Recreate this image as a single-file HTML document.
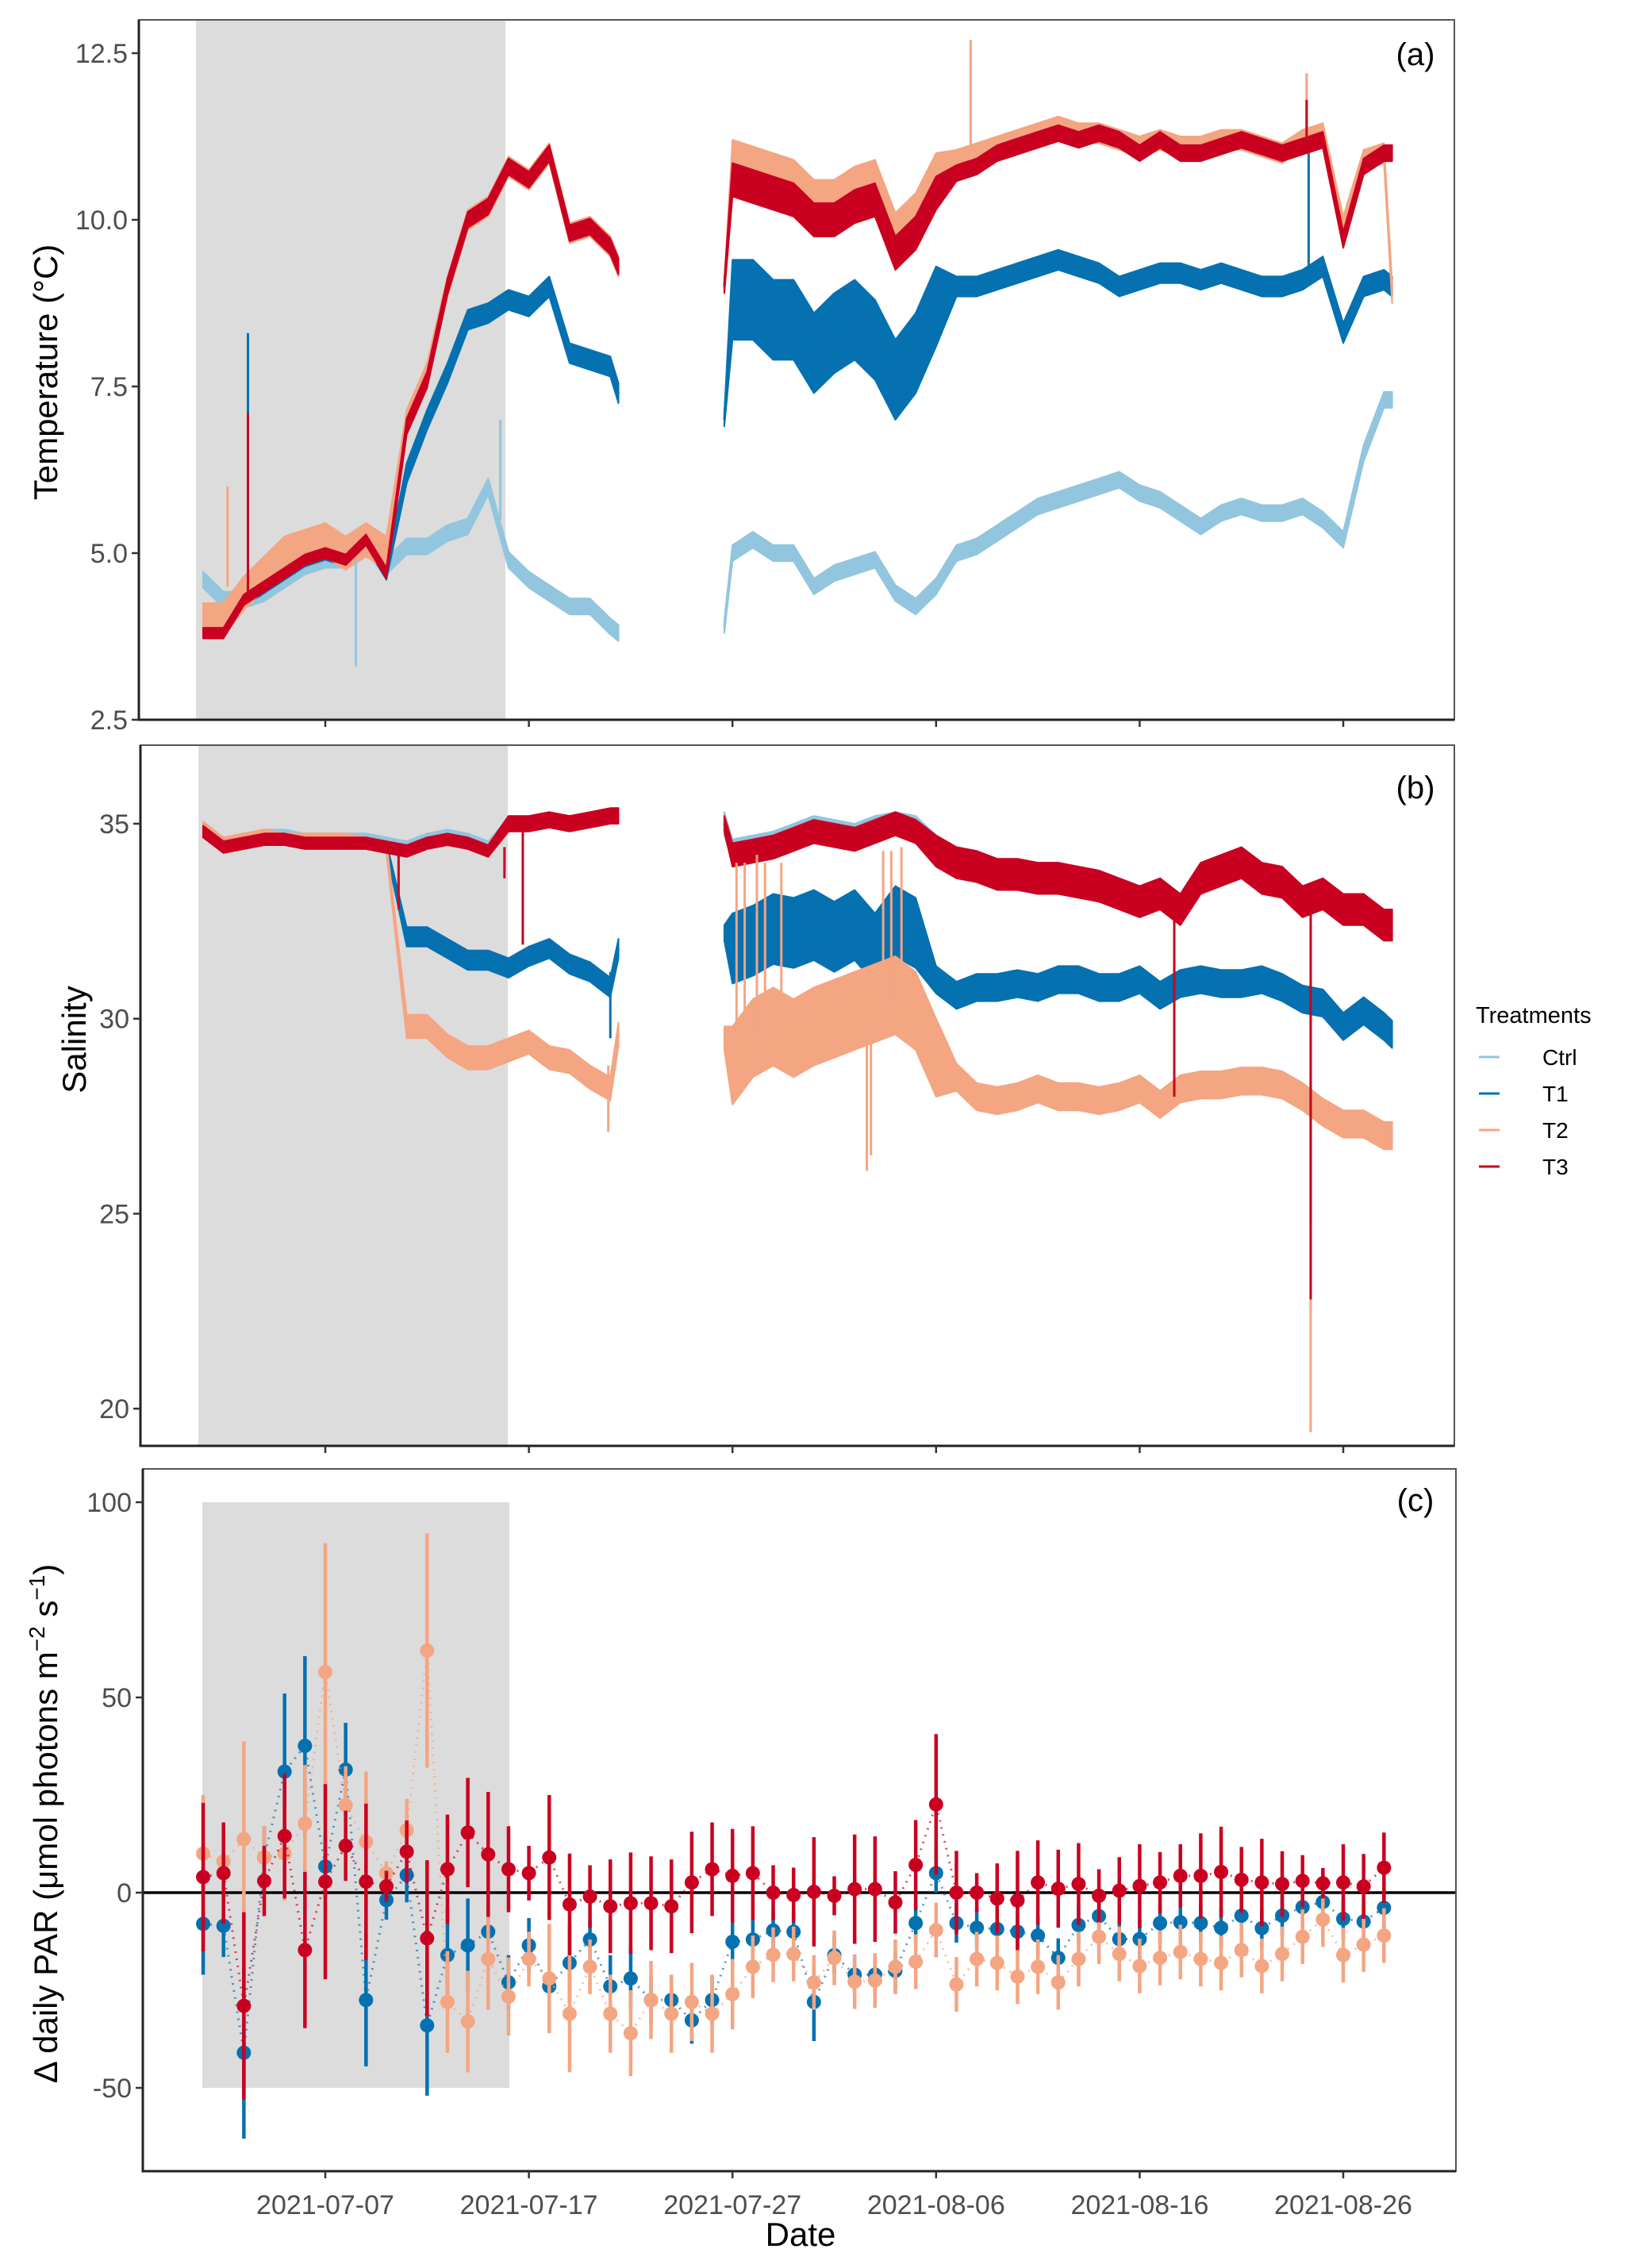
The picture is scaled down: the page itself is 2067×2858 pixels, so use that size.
<!DOCTYPE html>
<html><head><meta charset="utf-8"><title>Treatments: temperature, salinity and daily PAR</title>
<style>
html,body{margin:0;padding:0;background:#fff;}
svg{display:block;font-family:"Liberation Sans",sans-serif;}
.tick{font-size:34px;fill:#4d4d4d;}
.title{font-size:42px;fill:#000;}
.plab{font-size:40px;fill:#000;}
.leg{font-size:28px;fill:#000;}
</style></head>
<body>
<svg id="chart" width="2067" height="2858" viewBox="0 0 2067 2858" xmlns="http://www.w3.org/2000/svg"></svg>
<script>
// ---------- shared time axis (days since 2021-07-01) ----------
const times = [0,1,2,3,4,5,6,7,8,9,10,11,12,13,14,15,16,17,18,19,20,20.4,25.6,26,27,28,29,30,31,32,33,34,35,36,37,38,39,40,41,42,43,44,45,46,47,48,49,50,51,52,53,54,55,56,57,58,58.4];
const dateTicks = [6,16,26,36,46,56];
const dateLabels = ["2021-07-07","2021-07-17","2021-07-27","2021-08-06","2021-08-16","2021-08-26"];

// ---------- temperature (°C) ----------
const tempTicks = [2.5,5.0,7.5,10.0,12.5];
const tempCtrl = [4.6,4.3,4.3,4.4,4.6,4.8,4.9,4.9,5.1,4.8,5.1,5.1,5.3,5.4,6.0,4.9,4.6,4.4,4.2,4.2,3.9,3.8, 3.9,5.0,5.2,5.0,5.0,4.5,4.7,4.8,4.9,4.4,4.2,4.5,5.0,5.1,5.3,5.5,5.7,5.8,5.9,6.0,6.1,5.9,5.8,5.6,5.4,5.6,5.7,5.6,5.6,5.7,5.5,5.2,6.5,7.3,7.3];
const tempT1 = [4.1,3.9,4.3,4.5,4.7,4.9,5.0,4.9,5.2,4.7,6.2,7.0,7.7,8.5,8.6,8.8,8.7,9.0,8.0,7.9,7.8,7.4, 7.0,8.8,8.8,8.5,8.5,8.0,8.3,8.5,8.2,7.6,8.0,8.7,9.0,9.0,9.1,9.2,9.3,9.4,9.3,9.2,9.0,9.1,9.2,9.2,9.1,9.2,9.1,9.0,9.0,9.1,9.3,8.3,9.0,9.1,9.0];
const tempT2 = [4.0,4.0,4.4,4.7,5.0,5.1,5.2,5.0,5.2,5.0,7.0,7.7,9.0,10.0,10.2,10.8,10.6,11.0,9.8,9.9,9.6,9.3, 9.0,10.8,10.7,10.6,10.5,10.2,10.2,10.4,10.5,9.7,10.0,10.6,10.9,11.0,11.1,11.2,11.3,11.4,11.3,11.3,11.2,11.1,11.2,11.1,11.1,11.2,11.2,11.1,11.0,11.2,11.3,9.9,10.9,11.0,8.9];
const tempT3 = [3.8,3.8,4.3,4.5,4.7,4.9,5.0,4.9,5.2,4.7,6.9,7.6,9.0,10.0,10.2,10.8,10.6,11.0,9.8,9.9,9.6,9.3, 9.0,10.6,10.5,10.4,10.3,10.0,10.0,10.2,10.3,9.5,9.8,10.4,10.7,10.8,11.0,11.1,11.2,11.3,11.2,11.3,11.2,11.0,11.2,11.0,11.0,11.1,11.2,11.1,11.0,11.1,11.2,9.7,10.8,11.0,11.0];
const tempBandCtrl = [0.12,0.12,0.12,0.12,0.12,0.12,0.12,0.12,0.12,0.12,0.12,0.12,0.12,0.12,0.12,0.12,0.12,0.12,0.12,0.12,0.12,0.12, 0.1,0.12,0.12,0.12,0.12,0.12,0.12,0.12,0.12,0.12,0.12,0.12,0.12,0.12,0.12,0.12,0.12,0.12,0.12,0.12,0.12,0.12,0.12,0.12,0.12,0.12,0.12,0.12,0.12,0.12,0.12,0.12,0.12,0.12,0.12];
const tempBandT1 = [0.1,0.1,0.1,0.1,0.1,0.1,0.1,0.1,0.1,0.1,0.15,0.15,0.15,0.15,0.15,0.15,0.15,0.15,0.15,0.15,0.15,0.15, 0.1,0.6,0.6,0.6,0.6,0.6,0.6,0.6,0.6,0.6,0.6,0.6,0.15,0.15,0.15,0.15,0.15,0.15,0.15,0.15,0.15,0.15,0.15,0.15,0.15,0.15,0.15,0.15,0.15,0.15,0.15,0.15,0.15,0.15,0.15];
const tempBandT2 = [0.25,0.25,0.25,0.25,0.25,0.25,0.25,0.25,0.25,0.25,0.15,0.15,0.15,0.15,0.15,0.15,0.15,0.15,0.15,0.15,0.15,0.15, 0.1,0.4,0.4,0.4,0.4,0.4,0.4,0.4,0.4,0.4,0.4,0.4,0.15,0.15,0.15,0.15,0.15,0.15,0.15,0.15,0.15,0.15,0.15,0.15,0.15,0.15,0.15,0.15,0.15,0.15,0.15,0.15,0.15,0.15,0.15];
const tempBandT3 = [0.08,0.08,0.08,0.08,0.08,0.08,0.08,0.08,0.08,0.08,0.12,0.12,0.12,0.12,0.12,0.12,0.12,0.12,0.12,0.12,0.12,0.12, 0.1,0.25,0.25,0.25,0.25,0.25,0.25,0.25,0.25,0.25,0.25,0.25,0.12,0.12,0.12,0.12,0.12,0.12,0.12,0.12,0.12,0.12,0.12,0.12,0.12,0.12,0.12,0.12,0.12,0.12,0.12,0.12,0.12,0.12,0.12];
const tempSpikeT = [2.2,2.2,1.2,7.5,14.6,37.7,54.2,54.2,54.3];
const tempSpikeFrom = [4.4,4.4,4.5,4.9,5.5,10.9,11.2,11.1,9.1];
const tempSpikeTo = [8.3,7.1,6.0,3.3,7.0,12.7,12.2,11.8,11.0];
const tempSpikeSeries = ["T1","T3","T2","Ctrl","Ctrl","T2","T2","T3","T1"];

// ---------- salinity ----------
const salTicks = [20,25,30,35];
const salCtrl = [34.9,34.5,34.6,34.7,34.7,34.6,34.6,34.6,34.6,34.5,34.4,34.6,34.7,34.6,34.4,35.0,35.0,35.1,35.0,35.1,35.2,35.2, 35.0,34.3,34.4,34.5,34.7,34.9,34.8,34.7,34.9,35.0,34.9,34.4,34.1,34.0,33.8,33.8,33.7,33.7,33.6,33.5,33.3,33.1,33.3,32.9,33.7,33.9,34.1,33.7,33.6,33.1,33.3,32.9,32.9,32.5,32.5];
const salT1 = [34.8,34.4,34.5,34.6,34.6,34.5,34.5,34.5,34.5,34.4,32.1,32.1,31.8,31.5,31.5,31.3,31.6,31.8,31.4,31.2,30.8,31.8, 32.2,31.8,32.0,32.3,32.2,32.4,32.1,32.4,31.8,32.5,32.2,31.0,30.6,30.8,30.8,30.9,30.8,31.0,31.0,30.8,30.8,31.0,30.6,30.9,31.0,30.9,30.9,31.0,30.8,30.5,30.4,29.8,30.2,29.8,29.6];
const salT2 = [34.9,34.5,34.6,34.7,34.6,34.6,34.6,34.6,34.5,34.4,29.8,29.8,29.3,29.0,29.0,29.2,29.4,29.0,28.9,28.5,28.2,29.6, 29.5,28.8,29.5,29.8,29.5,29.8,30.0,30.2,30.4,30.6,30.2,29.0,28.5,28.0,27.9,28.0,28.2,28.0,28.0,27.9,28.0,28.2,27.8,28.2,28.3,28.3,28.4,28.4,28.3,28.0,27.6,27.3,27.3,27.0,27.0];
const salT3 = [34.8,34.4,34.5,34.6,34.6,34.5,34.5,34.5,34.5,34.4,34.3,34.5,34.6,34.5,34.3,35.0,35.0,35.1,35.0,35.1,35.2,35.2, 35.0,34.2,34.3,34.4,34.6,34.8,34.7,34.6,34.8,35.0,34.8,34.3,34.0,33.9,33.7,33.7,33.6,33.6,33.5,33.4,33.2,33.0,33.2,32.8,33.6,33.8,34.0,33.6,33.5,33.0,33.2,32.8,32.8,32.4,32.4];
const salBandCtrl = [0.15,0.15,0.15,0.15,0.15,0.15,0.15,0.15,0.15,0.15,0.15,0.15,0.15,0.15,0.15,0.15,0.15,0.15,0.15,0.15,0.15,0.15, 0.3,0.3,0.3,0.3,0.3,0.3,0.3,0.3,0.3,0.3,0.3,0.3,0.3,0.3,0.3,0.3,0.3,0.3,0.3,0.3,0.3,0.3,0.3,0.3,0.3,0.3,0.3,0.3,0.3,0.3,0.3,0.3,0.3,0.3,0.3];
const salBandT1 = [0.12,0.12,0.12,0.12,0.12,0.12,0.12,0.12,0.12,0.12,0.25,0.25,0.25,0.25,0.25,0.25,0.25,0.25,0.25,0.25,0.25,0.25, 0.2,0.9,0.9,0.9,0.9,0.9,0.9,0.9,0.9,0.9,0.9,0.35,0.35,0.35,0.35,0.35,0.35,0.35,0.35,0.35,0.35,0.35,0.35,0.35,0.35,0.35,0.35,0.35,0.35,0.35,0.35,0.35,0.35,0.35,0.35];
const salBandT2 = [0.15,0.15,0.15,0.15,0.15,0.15,0.15,0.15,0.15,0.15,0.3,0.3,0.3,0.3,0.3,0.3,0.3,0.3,0.3,0.3,0.3,0.3, 0.3,1.0,1.0,1.0,1.0,1.0,1.0,1.0,1.0,1.0,1.0,1.0,0.35,0.35,0.35,0.35,0.35,0.35,0.35,0.35,0.35,0.35,0.35,0.35,0.35,0.35,0.35,0.35,0.35,0.35,0.35,0.35,0.35,0.35,0.35];
const salBandT3 = [0.15,0.15,0.15,0.15,0.15,0.15,0.15,0.15,0.15,0.15,0.15,0.15,0.15,0.15,0.15,0.2,0.2,0.2,0.2,0.2,0.2,0.2, 0.2,0.3,0.3,0.3,0.3,0.3,0.3,0.3,0.3,0.3,0.3,0.4,0.4,0.4,0.4,0.4,0.4,0.4,0.4,0.4,0.4,0.4,0.4,0.4,0.4,0.4,0.4,0.4,0.4,0.4,0.4,0.4,0.4,0.4,0.4];
const salSpikeT = [26.2,26.6,27.2,27.6,28.4,33.4,33.8,34.3,32.6,32.8,54.4,19.9,20.0,54.4,47.7,54.4,15.7,9.6,14.8];
const salSpikeFrom = [29.5,29.5,29.5,29.5,29.8,30.2,30.4,30.5,29.8,29.8,28.0,28.8,31.2,30.5,33.2,33.0,35.0,34.4,34.4];
const salSpikeTo = [34.0,34.0,34.2,34.0,34.0,34.3,34.3,34.4,26.1,26.5,19.4,27.1,29.5,24.7,28.0,22.8,31.9,32.8,33.6];
const salSpikeSeries = ["T2","T2","T2","T2","T2","T2","T2","T2","T2","T2","T2","T2","T1","T1","T3","T3","T3","T3","T3"];

// ---------- Δ daily PAR ----------
const parTicks = [-50,0,50,100];
const parDays = [0,1,2,3,4,5,6,7,8,9,10,11,12,13,14,15,16,17,18,19,20,21,22,23,24,25,26,27,28,29,30,31,32,33,34,35,36,37,38,39,40,41,42,43,44,45,46,47,48,49,50,51,52,53,54,55,56,57,58];
const parT1 = [-8,-8.5,-41,9,31,37.6,6.7,31.5,-27.5,-1.9,4.5,-34,-16,-13.5,-10,-23,-13.5,-24,-18,-12,-24,-22,-27.5,-27.5,-32.7,-27.5,-12.6,-12,-9.7,-10,-28,-16,-21,-21,-20,-7.8,5,-7.8,-9,-9.3,-10,-11,-16.7,-8.3,-6,-11.9,-11.9,-7.8,-7.6,-7.8,-9,-5.9,-9.1,-5.9,-3.7,-2.4,-6.7,-7.4,-3.9];
const parT2 = [10,8,13.7,9,10,17.7,56.5,22.4,13,5,16,62,-28,-33,-17,-26.6,-17,-22,-31,-19,-31,-36,-27.5,-31,-28,-31,-26,-19,-15.9,-15.7,-23,-16.7,-22.8,-22.5,-19,-17.7,-9.6,-23.5,-17,-18,-21.5,-19,-23,-17,-11.3,-15.7,-18.8,-16.7,-15.2,-17,-18,-14.7,-18.8,-15.7,-11.3,-6.9,-16,-13.3,-11];
const parT3 = [4,5,-29,3,14.5,-14.7,2.8,12,2.8,1.6,10.5,-11.7,6,15.4,9.8,6,5,9,-3,-1,-3.5,-2.7,-2.7,-3.5,2.6,6,4.3,5,0,-0.6,0.2,-0.8,0.9,0.9,-2.5,7.1,22.6,0,0,-1.5,-2,2.6,1,2.2,-0.8,0.5,1.7,2.6,4.3,4.3,5.3,3.3,2.6,2.2,3,2.4,2.6,1.6,6.4];
const errT1 = [13,8,22,8,20,23,8,12,17,5,7,18,12,12,8,7,7,8,10,5,8,8,6,6,6,6,5,5,5,5,10,5,5,5,5,5,5,5,5,5,5,5,5,5,5,5,5,5,5,5,5,5,5,5,5,5,5,5,5];
const errT2 = [15,8,25,8,12,15,33,10,18,3,8,30,13,13,13,10,7,14,15,7,10,11,10,10,10,10,9,8,7,7,7,7,7,7,7,7,7,7,7,7,7,7,7,7,7,7,7,7,7,7,7,7,7,7,7,7,7,7,7];
const errT3 = [19,13,24,9,16,20,25,9,20,4,8,20,14,14,16,11,7,16,13,8,12,13,12,12,13,12,12,12,7,7,14,5,14,13.5,8,11.5,18,10.7,5,9,12.7,10.8,10,10.5,6.8,8.6,10.7,7.8,8.1,10.9,11.6,8.4,11.2,8.4,6.6,3.9,9.8,8.3,9];

const treatments = ["Ctrl","T1","T2","T3"];
const colors = {Ctrl:"#92c5de",T1:"#0571b0",T2:"#f4a582",T3:"#ca0020"};

// ---------- scales ----------
const NS = "http://www.w3.org/2000/svg";
const svg = document.getElementById("chart");
function xs(t){ return 410 + (t - 6) * 25.66; }
function yTemp(v){ return 907 - (v - 2.5) * 84; }
function ySal(v){ return 1038 + (35 - v) * 49.14; }
function yPar(v){ return 2385 - v * 4.92; }

function mk(tag, attrs, parent){
  const e = document.createElementNS(NS, tag);
  for (const k in attrs) e.setAttribute(k, attrs[k]);
  (parent || svg).appendChild(e);
  return e;
}
function txt(s, x, y, cls, anchor, parent){
  const e = mk("text", {x:x, y:y, class:cls, "text-anchor":anchor||"middle"}, parent);
  e.textContent = s;
  return e;
}

function panelFrame(name, L, T, R, B, shadeX0, shadeX1, shadeY0, shadeY1){
  const g = mk("g", {});
  
  
  const bg = mk("rect", {x:L, y:T, width:R-L, height:B-T, fill:"#fff"}, g);
  const sh = mk("rect", {x:shadeX0, y:shadeY0, width:shadeX1-shadeX0, height:shadeY1-shadeY0, fill:"#dcdcdc"}, g);
  
  
  return g;
}
function panelBorder(name, L, T, R, B){
  const g = mk("g", {});
  
  
  mk("rect", {x:L, y:T, width:R-L, height:B-T, fill:"none", stroke:"#555", "stroke-width":2}, g);
  mk("line", {x1:L, y1:T, x2:L, y2:B+1.5, stroke:"#222", "stroke-width":3}, g);
  mk("line", {x1:L-1.5, y1:B, x2:R, y2:B, stroke:"#222", "stroke-width":3}, g);
  for (const t of dateTicks){
    mk("line", {x1:xs(t), y1:B, x2:xs(t), y2:B+9, stroke:"#333", "stroke-width":2.5}, g);
  }
}
function yAxis(name, L, ticks, yf, labels){
  const g = mk("g", {});
  
  
  ticks.forEach((v, i) => {
    mk("line", {x1:L-9, y1:yf(v), x2:L, y2:yf(v), stroke:"#333", "stroke-width":2.5}, g);
    const t = txt(labels[i], L-14, yf(v)+12, "tick", "end", g);
    
    
  });
}

function drawTS(panelName, vals, bands, color, yf){
  const g = mk("g", {});
  
  
  // split into segments at gaps
  const segs = []; let cur = [];
  for (let i = 0; i < times.length; i++){
    if (i > 0 && times[i] - times[i-1] > 2){ segs.push(cur); cur = []; }
    cur.push(i);
  }
  segs.push(cur);
  for (const s of segs){
    let up = "", lo = "";
    s.forEach((i, k) => { up += (k ? " L" : "M") + xs(times[i]).toFixed(1) + "," + yf(vals[i] + bands[i]).toFixed(1); });
    for (let k = s.length - 1; k >= 0; k--){ const i = s[k]; lo += " L" + xs(times[i]).toFixed(1) + "," + yf(vals[i] - bands[i]).toFixed(1); }
    const band = mk("path", {d: up + lo + " Z", fill:color, stroke:color, "stroke-width":2, "stroke-linejoin":"round"}, g);
    
    
    let d = "";
    s.forEach((i, k) => { d += (k ? " L" : "M") + xs(times[i]).toFixed(1) + "," + yf(vals[i]).toFixed(1); });
    const ln = mk("path", {d:d, fill:"none", stroke:color, "stroke-width":3, "stroke-linejoin":"round"}, g);
    
    
  }
  return g;
}
function drawSpikes(name, ts, from, to, ser, yf){
  const g = mk("g", {});
  
  
  ts.forEach((t, i) => {
    const l = mk("line", {x1:xs(t), y1:yf(from[i]), x2:xs(t), y2:yf(to[i]), stroke:colors[ser[i]], "stroke-width":3}, g);
    
    
  });
}

// ===== Panel (a) temperature =====
panelFrame("temperature-panel", 175, 25, 1833, 907, xs(0)-9, 637, 25, 907);
drawTS("temp-ctrl-series", tempCtrl, tempBandCtrl, colors.Ctrl, yTemp);
drawTS("temp-t1-series", tempT1, tempBandT1, colors.T1, yTemp);
drawTS("temp-t2-series", tempT2, tempBandT2, colors.T2, yTemp);
drawTS("temp-t3-series", tempT3, tempBandT3, colors.T3, yTemp);
drawSpikes("temp-spikes", tempSpikeT, tempSpikeFrom, tempSpikeTo, tempSpikeSeries, yTemp);
panelBorder("temperature-panel", 175, 25, 1833, 907);
yAxis("temperature-y-axis", 175, tempTicks, yTemp, ["2.5","5.0","7.5","10.0","12.5"]);

// ===== Panel (b) salinity =====
panelFrame("salinity-panel", 177, 939, 1833, 1822, xs(0)-6, 640, 939, 1822);
drawTS("sal-ctrl-series", salCtrl, salBandCtrl, colors.Ctrl, ySal);
drawTS("sal-t1-series", salT1, salBandT1, colors.T1, ySal);
drawTS("sal-t2-series", salT2, salBandT2, colors.T2, ySal);
drawTS("sal-t3-series", salT3, salBandT3, colors.T3, ySal);
drawSpikes("sal-spikes", salSpikeT, salSpikeFrom, salSpikeTo, salSpikeSeries, ySal);
panelBorder("salinity-panel", 177, 939, 1833, 1822);
yAxis("salinity-y-axis", 177, salTicks, ySal, ["20","25","30","35"]);

// ===== Panel (c) PAR =====
panelFrame("par-panel", 180, 1851, 1835, 2736, 255, 642, yPar(100), yPar(-50));
const zl = mk("line", {x1:180, y1:yPar(0), x2:1835, y2:yPar(0), stroke:"#000", "stroke-width":3.5});


function drawPar(name, vals, errs, color){
  const g = mk("g", {});
  
  
  let d = "";
  parDays.forEach((t, i) => { d += (i ? " L" : "M") + xs(t).toFixed(1) + "," + yPar(vals[i]).toFixed(1); });
  const conn = mk("path", {d:d, fill:"none", stroke:color, "stroke-width":3, "stroke-dasharray":"2 7", opacity:0.7}, g);
  
  
  parDays.forEach((t, i) => {
    const eb = mk("line", {x1:xs(t), y1:yPar(vals[i]+errs[i]), x2:xs(t), y2:yPar(vals[i]-errs[i]), stroke:color, "stroke-width":4.5}, g);
    
    
    const c = mk("circle", {cx:xs(t), cy:yPar(vals[i]), r:9, fill:color}, g);
    
    
  });
}
drawPar("par-t1-series", parT1, errT1, colors.T1);
drawPar("par-t2-series", parT2, errT2, colors.T2);
drawPar("par-t3-series", parT3, errT3, colors.T3);
panelBorder("par-panel", 180, 1851, 1835, 2736);
yAxis("par-y-axis", 180, parTicks, yPar, ["-50","0","50","100"]);

// x tick labels
dateTicks.forEach((t, i) => {
  const e = txt(dateLabels[i], xs(t), 2790, "tick", "middle");
  
  
});
</script>

<!-- static text layer -->
<svg style="position:absolute;left:0;top:0" width="2067" height="2858" xmlns="http://www.w3.org/2000/svg">
  <g font-family="Liberation Sans, sans-serif">
    <text x="1784" y="82" font-size="40" text-anchor="middle">(a)</text>
    <text x="1784" y="1006" font-size="40" text-anchor="middle">(b)</text>
    <text x="1784" y="1904" font-size="40" text-anchor="middle">(c)</text>
    <text transform="translate(72,469) rotate(-90)" font-size="42" text-anchor="middle">Temperature (°C)</text>
    <text transform="translate(108,1310) rotate(-90)" font-size="42" text-anchor="middle">Salinity</text>
    <text transform="translate(72,2298) rotate(-90)" font-size="42" text-anchor="middle">Δ daily PAR (μmol photons m<tspan font-size="28" dy="-16">−2</tspan><tspan dy="16"> s</tspan><tspan font-size="28" dy="-16">−1</tspan><tspan dy="16">)</tspan></text>
    <text x="1009" y="2830" font-size="42" text-anchor="middle">Date</text>
  </g>
  <g font-family="Liberation Sans, sans-serif">
    <text x="1860" y="1289" font-size="29">Treatments</text>
    <g>
      <line x1="1864" y1="1332" x2="1890" y2="1332" stroke="#92c5de" stroke-width="3"/>
      <text x="1944" y="1342" font-size="28">Ctrl</text>
    </g>
    <g>
      <line x1="1864" y1="1378" x2="1890" y2="1378" stroke="#0571b0" stroke-width="3"/>
      <text x="1944" y="1388" font-size="28">T1</text>
    </g>
    <g>
      <line x1="1864" y1="1424" x2="1890" y2="1424" stroke="#f4a582" stroke-width="3"/>
      <text x="1944" y="1434" font-size="28">T2</text>
    </g>
    <g>
      <line x1="1864" y1="1470" x2="1890" y2="1470" stroke="#ca0020" stroke-width="3"/>
      <text x="1944" y="1480" font-size="28">T3</text>
    </g>
  </g>
</svg>
</body></html>
